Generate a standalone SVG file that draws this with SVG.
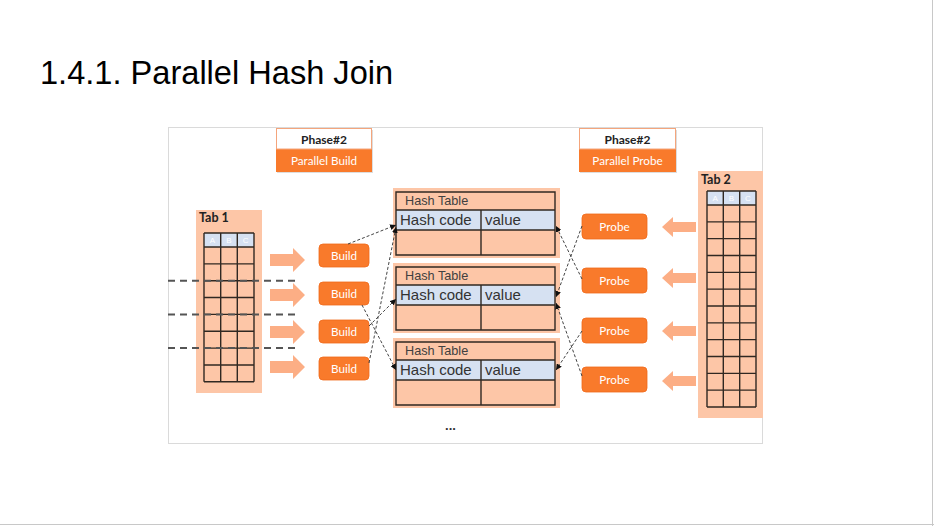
<svg xmlns="http://www.w3.org/2000/svg" width="934" height="526" viewBox="0 0 934 526">
<defs>
<style>
.title{font-family:"Liberation Sans",Arial,sans-serif;font-size:32.6px;fill:#000}
.lt{font-family:Lato,"Open Sans",sans-serif}
.ph{font-size:12px;fill:#222;text-anchor:middle;font-weight:bold}
.pw{font-size:11.7px;fill:#fff;text-anchor:middle}
.tab{font-size:12.5px;fill:#222;font-weight:bold}
.abc{font-family:"Liberation Sans",sans-serif;font-size:8px;fill:#fff;text-anchor:middle}
.btn{fill:#f97a2b;stroke:#f06a1a;stroke-width:0.8}
.arr{fill:#fcae85}
.bg{fill:#fdc6a7}
.hdr{fill:#d6e1f2}
.grid{fill:none;stroke:#302822;stroke-width:1.4}
.ht{font-family:"Liberation Sans",Arial,sans-serif}
.htt{font-size:12.7px;fill:#404040}
.htc{font-size:15px;fill:#333}
.conn{fill:none;stroke:#444;stroke-width:1;stroke-dasharray:3 2}
.dl{fill:none;stroke:#555;stroke-width:2;stroke-dasharray:7 5}
</style>
<marker id="ah" viewBox="0 0 6 6" refX="6" refY="3" markerWidth="6" markerHeight="6" markerUnits="userSpaceOnUse" orient="auto">
<path d="M0,0 L6,3 L0,6 z" fill="#111"/>
</marker>
</defs>
<rect width="934" height="526" fill="#fff"/>
<line x1="932.5" y1="0" x2="932.5" y2="526" stroke="#c8c8c8" stroke-width="1"/>
<line x1="0" y1="524.5" x2="934" y2="524.5" stroke="#c8c8c8" stroke-width="1"/>
<text class="title" x="40" y="84">1.4.1. Parallel Hash Join</text>
<rect x="168.5" y="127.5" width="594" height="316" fill="#fff" stroke="#dadada" stroke-width="1"/>

<g id="phase-build">
<rect x="277" y="130" width="96" height="43" fill="#ddd"/>
<rect x="276" y="149" width="96" height="23" fill="#f97a2b"/>
<rect x="276.5" y="128.5" width="95" height="20.5" fill="#fff" stroke="#f4a57c" stroke-width="1"/>
<text class="lt ph" x="324" y="143.5">Phase#2</text>
<text class="lt pw" x="324" y="165">Parallel Build</text>
</g>
<g id="phase-probe">
<rect x="580" y="130" width="97" height="43" fill="#ddd"/>
<rect x="579" y="149" width="97" height="23" fill="#f97a2b"/>
<rect x="579.5" y="128.5" width="96" height="20.5" fill="#fff" stroke="#f4a57c" stroke-width="1"/>
<text class="lt ph" x="627.5" y="143.5">Phase#2</text>
<text class="lt pw" x="627.5" y="165">Parallel Probe</text>
</g>

<g id="tab1">
<rect class="bg" x="196" y="210" width="66" height="183"/>
<text class="lt tab" x="199" y="222">Tab 1</text>
<rect class="hdr" x="204" y="233" width="50" height="14"/>
<text class="abc" x="212.3" y="243">A</text>
<text class="abc" x="229" y="243">B</text>
<text class="abc" x="245.7" y="243">C</text>
<path class="grid" d="M204,233V381.8M220.7,233V381.8M237.3,233V381.8M254,233V381.8M204,233H254M204,247H254M204,263.85H254M204,280.7H254M204,297.55H254M204,314.4H254M204,331.25H254M204,348.1H254M204,364.95H254M204,381.8H254"/>
</g>
<g id="partition-lines">
<path class="dl" d="M168,280.7H300M168,314.4H300M168,348.1H300"/>
</g>

<g id="tab2">
<rect class="bg" x="698" y="171" width="65" height="247"/>
<text class="lt tab" x="701" y="184">Tab 2</text>
<rect class="hdr" x="707" y="191" width="49" height="14"/>
<text class="abc" x="715.2" y="201">A</text>
<text class="abc" x="731.5" y="201">B</text>
<text class="abc" x="747.8" y="201">C</text>
<path class="grid" d="M707,191V407M723.3,191V407M739.7,191V407M756,191V407M707,191H756M707,205H756M707,221.83H756M707,238.67H756M707,255.5H756M707,272.33H756M707,289.17H756M707,306H756M707,322.83H756M707,339.67H756M707,356.5H756M707,373.33H756M707,390.17H756M707,407H756"/>
</g>

<g id="build-arrows">
<path class="arr" d="M270,254H293V248L305,260L293,272V266H270z"/>
<path class="arr" d="M270,289H293V283L305,295L293,307V301H270z"/>
<path class="arr" d="M270,326H293V320L305,332L293,344V338H270z"/>
<path class="arr" d="M270,361H293V355L305,367L293,379V373H270z"/>
</g>
<g id="probe-arrows">
<path class="arr" d="M696,222H673V217L662,227L673,237V232H696z"/>
<path class="arr" d="M696,273H673V268L662,278L673,288V283H696z"/>
<path class="arr" d="M696,326H673V321L662,331L673,341V336H696z"/>
<path class="arr" d="M696,376H673V371L662,381L673,391V386H696z"/>
</g>

<g id="build1"><rect class="btn" x="319" y="244" width="50" height="23" rx="4"/><text class="lt pw" x="344" y="259.5">Build</text></g>
<g id="build2"><rect class="btn" x="319" y="282" width="50" height="23" rx="4"/><text class="lt pw" x="344" y="297.5">Build</text></g>
<g id="build3"><rect class="btn" x="319" y="320" width="50" height="23" rx="4"/><text class="lt pw" x="344" y="335.5">Build</text></g>
<g id="build4"><rect class="btn" x="319" y="357" width="50" height="23" rx="4"/><text class="lt pw" x="344" y="372.5">Build</text></g>

<g id="probe1"><rect class="btn" x="582" y="214" width="65" height="25" rx="4"/><text class="lt pw" x="614.5" y="230.5">Probe</text></g>
<g id="probe2"><rect class="btn" x="582" y="268" width="65" height="25" rx="4"/><text class="lt pw" x="614.5" y="284.5">Probe</text></g>
<g id="probe3"><rect class="btn" x="582" y="318" width="65" height="25" rx="4"/><text class="lt pw" x="614.5" y="334.5">Probe</text></g>
<g id="probe4"><rect class="btn" x="582" y="367" width="65" height="25" rx="4"/><text class="lt pw" x="614.5" y="383.5">Probe</text></g>

<g id="hashtable1">
<rect class="bg" x="393" y="188" width="167" height="70"/>
<rect class="hdr" x="396" y="210" width="159" height="20"/>
<path class="grid" d="M396,192H555V255H396zM396,210H555M396,230H555M481,210V255"/>
<text class="ht htt" x="405" y="205">Hash Table</text>
<text class="ht htc" x="400" y="225">Hash code</text>
<text class="ht htc" x="485" y="225">value</text>
</g>
<g id="hashtable2">
<rect class="bg" x="393" y="263" width="167" height="70"/>
<rect class="hdr" x="396" y="285" width="159" height="20"/>
<path class="grid" d="M396,267H555V330H396zM396,285H555M396,305H555M481,285V330"/>
<text class="ht htt" x="405" y="280">Hash Table</text>
<text class="ht htc" x="400" y="300">Hash code</text>
<text class="ht htc" x="485" y="300">value</text>
</g>
<g id="hashtable3">
<rect class="bg" x="393" y="338" width="167" height="70"/>
<rect class="hdr" x="396" y="360" width="159" height="20"/>
<path class="grid" d="M396,342H555V405H396zM396,360H555M396,380H555M481,360V405"/>
<text class="ht htt" x="405" y="355">Hash Table</text>
<text class="ht htc" x="400" y="375">Hash code</text>
<text class="ht htc" x="485" y="375">value</text>
</g>
<text class="ht" x="450.5" y="430" font-size="13" font-weight="bold" fill="#333" text-anchor="middle">...</text>

<g id="connectors">
<line class="conn" x1="348" y1="244" x2="396" y2="225" marker-end="url(#ah)"/>
<line class="conn" x1="369" y1="363" x2="396" y2="227" marker-end="url(#ah)"/>
<line class="conn" x1="362" y1="305" x2="396" y2="370" marker-end="url(#ah)"/>
<line class="conn" x1="369" y1="326" x2="396" y2="299" marker-end="url(#ah)"/>
<line class="conn" x1="582" y1="226" x2="556" y2="297" marker-end="url(#ah)"/>
<line class="conn" x1="582" y1="279" x2="556" y2="226" marker-end="url(#ah)"/>
<line class="conn" x1="582" y1="331" x2="556" y2="370" marker-end="url(#ah)"/>
<line class="conn" x1="582" y1="376" x2="556" y2="303" marker-end="url(#ah)"/>
</g>
</svg>
